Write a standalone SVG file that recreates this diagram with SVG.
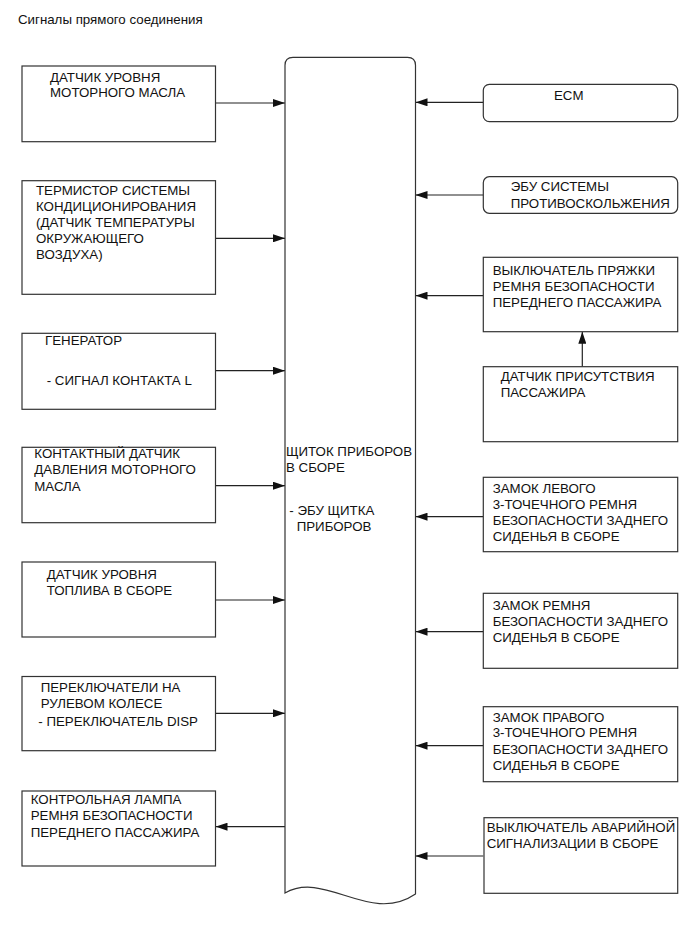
<svg xmlns="http://www.w3.org/2000/svg" width="690" height="952" viewBox="0 0 690 952">
<defs>
<style>
.box{fill:#fff;stroke:#333;stroke-width:1.2}
.t{font-family:"Liberation Sans",Arial,sans-serif;font-size:13.3px;fill:#111}
.ln{stroke:#222;stroke-width:1.2;fill:none}
</style>
<marker id="ah" markerUnits="userSpaceOnUse" markerWidth="12" markerHeight="8" refX="12" refY="4" orient="auto">
<path d="M0,0 L12,4 L0,8 z" fill="#111"/>
</marker>
</defs>
<rect width="690" height="952" fill="#fff"/>
<text class="t" x="18" y="23.5">Сигналы прямого соединения</text>

<g id="connectors">
<line class="ln" x1="215.5" y1="103" x2="285" y2="103" marker-end="url(#ah)"/>
<line class="ln" x1="215.5" y1="238.3" x2="285" y2="238.3" marker-end="url(#ah)"/>
<line class="ln" x1="215.5" y1="370.7" x2="285" y2="370.7" marker-end="url(#ah)"/>
<line class="ln" x1="215.5" y1="485.7" x2="285" y2="485.7" marker-end="url(#ah)"/>
<line class="ln" x1="215.5" y1="600" x2="285" y2="600" marker-end="url(#ah)"/>
<line class="ln" x1="215.5" y1="713.3" x2="285" y2="713.3" marker-end="url(#ah)"/>
<line class="ln" x1="285" y1="826.7" x2="215.5" y2="826.7" marker-end="url(#ah)"/>
<line class="ln" x1="483.3" y1="102.3" x2="415.5" y2="102.3" marker-end="url(#ah)"/>
<line class="ln" x1="483.3" y1="195" x2="415.5" y2="195" marker-end="url(#ah)"/>
<line class="ln" x1="483.3" y1="295.7" x2="415.5" y2="295.7" marker-end="url(#ah)"/>
<line class="ln" x1="483.3" y1="516.7" x2="415.5" y2="516.7" marker-end="url(#ah)"/>
<line class="ln" x1="483.3" y1="631.7" x2="415.5" y2="631.7" marker-end="url(#ah)"/>
<line class="ln" x1="483.3" y1="745.7" x2="415.5" y2="745.7" marker-end="url(#ah)"/>
<line class="ln" x1="483.3" y1="856" x2="415.5" y2="856" marker-end="url(#ah)"/>
<line class="ln" x1="582.3" y1="366.7" x2="582.3" y2="331.7" marker-end="url(#ah)"/>
</g>

<g id="center">
<path class="box" d="M285,893 L285,65.3 Q285,57.3 293,57.3 L407.5,57.3 Q415.5,57.3 415.5,65.3 L415.5,894 C370,925 325,870 285,893 Z"/>
<text class="t" x="286" y="456">ЩИТОК ПРИБОРОВ</text>
<text class="t" x="286" y="472">В СБОРЕ</text>
<text class="t" x="289.3" y="514.5">- ЭБУ ЩИТКА</text>
<text class="t" x="296.7" y="531">ПРИБОРОВ</text>
</g>

<g id="l1">
<rect class="box" x="22" y="66" width="193.5" height="75.7"/>
<text class="t" x="50" y="81.5">ДАТЧИК УРОВНЯ</text>
<text class="t" x="50" y="97">МОТОРНОГО МАСЛА</text>
</g>
<g id="l2">
<rect class="box" x="22" y="180.7" width="193.5" height="113.6"/>
<text class="t" x="36" y="195">ТЕРМИСТОР СИСТЕМЫ</text>
<text class="t" x="36" y="211">КОНДИЦИОНИРОВАНИЯ</text>
<text class="t" x="36" y="227">(ДАТЧИК ТЕМПЕРАТУРЫ</text>
<text class="t" x="36" y="243">ОКРУЖАЮЩЕГО</text>
<text class="t" x="36" y="259">ВОЗДУХА)</text>
</g>
<g id="l3">
<rect class="box" x="22" y="333.3" width="193.5" height="76"/>
<text class="t" x="45" y="345">ГЕНЕРАТОР</text>
<text class="t" x="46.7" y="385">- СИГНАЛ КОНТАКТА L</text>
</g>
<g id="l4">
<rect class="box" x="22" y="447.3" width="193.5" height="75.4"/>
<text class="t" x="34.3" y="458">КОНТАКТНЫЙ ДАТЧИК</text>
<text class="t" x="34.3" y="474">ДАВЛЕНИЯ МОТОРНОГО</text>
<text class="t" x="34.3" y="490.5">МАСЛА</text>
</g>
<g id="l5">
<rect class="box" x="22" y="562" width="193.5" height="75"/>
<text class="t" x="46.7" y="579">ДАТЧИК УРОВНЯ</text>
<text class="t" x="46.7" y="595">ТОПЛИВА В СБОРЕ</text>
</g>
<g id="l6">
<rect class="box" x="22" y="676.5" width="193.5" height="74.2"/>
<text class="t" x="40.7" y="692">ПЕРЕКЛЮЧАТЕЛИ НА</text>
<text class="t" x="40.7" y="708">РУЛЕВОМ КОЛЕСЕ</text>
<text class="t" x="38.3" y="725.5">- ПЕРЕКЛЮЧАТЕЛЬ DISP</text>
</g>
<g id="l7">
<rect class="box" x="22" y="791" width="193.5" height="75"/>
<text class="t" x="30.7" y="804">КОНТРОЛЬНАЯ ЛАМПА</text>
<text class="t" x="30.7" y="820">РЕМНЯ БЕЗОПАСНОСТИ</text>
<text class="t" x="30.7" y="836.5">ПЕРЕДНЕГО ПАССАЖИРА</text>
</g>

<g id="r1">
<rect class="box" x="483.3" y="84.3" width="194.4" height="37.4" rx="6"/>
<text class="t" x="554" y="99.5">ECM</text>
</g>
<g id="r2">
<rect class="box" x="483.3" y="176.7" width="194.4" height="36.6" rx="6"/>
<text class="t" x="510.7" y="190.5">ЭБУ СИСТЕМЫ</text>
<text class="t" x="510.7" y="207.5">ПРОТИВОСКОЛЬЖЕНИЯ</text>
</g>
<g id="r3">
<rect class="box" x="483.3" y="257.3" width="194.4" height="74.4"/>
<text class="t" x="492.7" y="275">ВЫКЛЮЧАТЕЛЬ ПРЯЖКИ</text>
<text class="t" x="492.7" y="291">РЕМНЯ БЕЗОПАСНОСТИ</text>
<text class="t" x="492.7" y="307">ПЕРЕДНЕГО ПАССАЖИРА</text>
</g>
<g id="r4">
<rect class="box" x="483.3" y="366.7" width="194.4" height="75"/>
<text class="t" x="500.7" y="380.5">ДАТЧИК ПРИСУТСТВИЯ</text>
<text class="t" x="500.7" y="396.5">ПАССАЖИРА</text>
</g>
<g id="r5">
<rect class="box" x="483.3" y="477.3" width="194.4" height="74.4"/>
<text class="t" x="492.7" y="493">ЗАМОК ЛЕВОГО</text>
<text class="t" x="492.7" y="509">3-ТОЧЕЧНОГО РЕМНЯ</text>
<text class="t" x="492.7" y="525">БЕЗОПАСНОСТИ ЗАДНЕГО</text>
<text class="t" x="492.7" y="541">СИДЕНЬЯ В СБОРЕ</text>
</g>
<g id="r6">
<rect class="box" x="483.3" y="593.3" width="194.4" height="75"/>
<text class="t" x="492.7" y="610">ЗАМОК РЕМНЯ</text>
<text class="t" x="492.7" y="626">БЕЗОПАСНОСТИ ЗАДНЕГО</text>
<text class="t" x="492.7" y="642">СИДЕНЬЯ В СБОРЕ</text>
</g>
<g id="r7">
<rect class="box" x="483.3" y="706.7" width="194.4" height="75"/>
<text class="t" x="492.7" y="721.5">ЗАМОК ПРАВОГО</text>
<text class="t" x="492.7" y="737">3-ТОЧЕЧНОГО РЕМНЯ</text>
<text class="t" x="492.7" y="753.5">БЕЗОПАСНОСТИ ЗАДНЕГО</text>
<text class="t" x="492.7" y="770">СИДЕНЬЯ В СБОРЕ</text>
</g>
<g id="r8">
<rect class="box" x="484" y="817.7" width="193.7" height="75.6"/>
<text class="t" x="486.7" y="831.7">ВЫКЛЮЧАТЕЛЬ АВАРИЙНОЙ</text>
<text class="t" x="486.7" y="848">СИГНАЛИЗАЦИИ В СБОРЕ</text>
</g>
</svg>
